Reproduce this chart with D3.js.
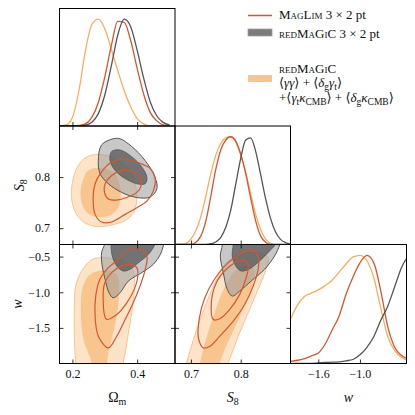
<!DOCTYPE html>
<html><head><meta charset="utf-8">
<script src="https://cdn.jsdelivr.net/npm/d3@7"></script>
<style>body{margin:0;background:#fff}text{font-family:"Liberation Serif","DejaVu Serif",serif;fill:#111}</style>
</head><body>
<svg id="c" width="415" height="415"></svg>
<script>
// ---------- ranges & ticks ----------
const omRange = [0.16, 0.517];
const s8Range = [0.668, 0.90];
const wRange = [-2.0, -0.33];
const omTicks = [0.2, 0.4];
const s8Ticks = [0.7, 0.8];
const wTicksX = [-1.6, -1.0];
const wTicksY = [-0.5, -1.0, -1.5];

// ---------- 1D marginals ----------
const omGrid = [0.16,0.18,0.20,0.22,0.24,0.26,0.28,0.30,0.32,0.34,0.36,0.38,0.40,0.42,0.44,0.46,0.48,0.50];
const omCross = [0,0.01,0.08,0.33,0.70,0.95,1.00,0.91,0.72,0.52,0.33,0.18,0.07,0.02,0,0,0,0];
const omMagLim = [0,0,0,0.005,0.02,0.08,0.22,0.46,0.75,0.98,0.97,0.80,0.54,0.30,0.13,0.05,0.01,0];
const omRedMagic = [0,0,0,0,0.008,0.036,0.116,0.29,0.56,0.85,1.0,0.93,0.71,0.45,0.23,0.098,0.034,0.01];

const s8Grid = [0.67,0.68,0.69,0.70,0.71,0.72,0.73,0.74,0.75,0.76,0.77,0.78,0.79,0.80,0.81,0.82,0.83,0.84,0.85,0.86,0.87,0.88,0.89,0.90];
const s8Cross = [0,0,0.01,0.05,0.13,0.26,0.45,0.66,0.83,0.94,0.99,1.0,0.95,0.83,0.67,0.47,0.28,0.14,0.05,0.01,0,0,0,0];
const s8MagLim = [0,0,0,0,0.02,0.08,0.22,0.45,0.70,0.88,0.97,1.0,0.96,0.84,0.66,0.43,0.22,0.08,0.02,0,0,0,0,0];
const s8RedMagic = [0,0,0,0,0,0,0,0.007,0.023,0.066,0.16,0.32,0.56,0.80,0.97,0.99,0.865,0.65,0.425,0.24,0.116,0.048,0.017,0.005];

const wGrid = [-2.0,-1.9,-1.8,-1.7,-1.6,-1.5,-1.4,-1.3,-1.2,-1.1,-1.0,-0.9,-0.8,-0.7,-0.6,-0.5,-0.4,-0.3];
const wCross = [0.41,0.54,0.62,0.65,0.68,0.72,0.77,0.845,0.92,0.985,1.0,0.95,0.79,0.51,0.25,0.12,0.056,0.025];
const wMagLim = [0.02,0.03,0.046,0.07,0.096,0.18,0.31,0.44,0.64,0.80,0.93,1.0,0.93,0.67,0.34,0.15,0.074,0.04];
const wRedMagic = [0,0,0,0.002,0.005,0.01,0.012,0.015,0.025,0.037,0.08,0.15,0.25,0.40,0.53,0.71,0.89,1.0];

// ---------- 2D contours (68% / 95%) ----------
const omS8Cross95 = [[0.259,0.843],[0.301,0.843],[0.342,0.833],[0.378,0.813],[0.394,0.787],[0.399,0.76],[0.391,0.733],[0.368,0.717],[0.326,0.707],[0.28,0.703],[0.239,0.71],[0.21,0.73],[0.197,0.76],[0.2,0.79],[0.213,0.817],[0.234,0.835]];
const omS8Cross68 = [[0.249,0.813],[0.29,0.818],[0.326,0.81],[0.344,0.79],[0.349,0.763],[0.342,0.74],[0.316,0.725],[0.28,0.722],[0.249,0.728],[0.23,0.747],[0.225,0.77],[0.234,0.797]];
const omS8RedMagic95 = [[0.326,0.875],[0.347,0.875],[0.383,0.86],[0.424,0.833],[0.455,0.8],[0.461,0.777],[0.44,0.761],[0.399,0.76],[0.352,0.77],[0.311,0.787],[0.285,0.807],[0.28,0.833],[0.29,0.863]];
const omS8RedMagic68 = [[0.321,0.85],[0.347,0.853],[0.383,0.84],[0.414,0.82],[0.43,0.8],[0.425,0.787],[0.399,0.787],[0.363,0.797],[0.332,0.813],[0.316,0.833]];
const omS8MagLim95 = [[0.352,0.835],[0.404,0.828],[0.44,0.817],[0.455,0.8],[0.45,0.773],[0.43,0.753],[0.399,0.74],[0.363,0.727],[0.321,0.712],[0.29,0.712],[0.27,0.727],[0.264,0.76],[0.27,0.787],[0.29,0.81],[0.316,0.827]];
const omS8MagLim68 = [[0.352,0.813],[0.388,0.81],[0.409,0.8],[0.412,0.783],[0.399,0.77],[0.368,0.76],[0.337,0.755],[0.311,0.757],[0.299,0.77],[0.301,0.787],[0.321,0.803]];

const omWCross95 = [[0.215,-2.4],[0.21,-1.993],[0.206,-1.664],[0.206,-1.195],[0.21,-0.913],[0.228,-0.702],[0.259,-0.547],[0.29,-0.514],[0.332,-0.538],[0.368,-0.594],[0.388,-0.702],[0.391,-0.96],[0.385,-1.242],[0.373,-1.57],[0.363,-1.852],[0.357,-1.993],[0.352,-2.4]];
const omWCross68 = [[0.262,-2.4],[0.259,-1.993],[0.234,-1.664],[0.226,-1.289],[0.23,-0.96],[0.249,-0.772],[0.28,-0.702],[0.316,-0.702],[0.34,-0.772],[0.344,-1.007],[0.337,-1.336],[0.321,-1.664],[0.306,-1.993],[0.30,-2.4]];
const omWRedMagic95 = [[0.30,-0.1],[0.299,-0.326],[0.29,-0.444],[0.292,-0.631],[0.301,-0.819],[0.313,-1.007],[0.326,-1.077],[0.347,-1.007],[0.373,-0.843],[0.414,-0.725],[0.45,-0.608],[0.472,-0.467],[0.482,-0.326],[0.49,-0.1]];
const omWRedMagic68 = [[0.318,-0.1],[0.319,-0.326],[0.323,-0.491],[0.337,-0.631],[0.357,-0.702],[0.378,-0.678],[0.404,-0.585],[0.435,-0.467],[0.455,-0.326],[0.465,-0.1]];
const omWMagLim95 = [[0.311,-1.78],[0.28,-1.617],[0.27,-1.336],[0.272,-1.054],[0.285,-0.819],[0.311,-0.655],[0.342,-0.538],[0.363,-0.43],[0.385,-0.38],[0.409,-0.39],[0.43,-0.49],[0.425,-0.678],[0.409,-0.913],[0.388,-1.148],[0.363,-1.383],[0.337,-1.617]];
const omWMagLim68 = [[0.305,-1.38],[0.295,-1.1],[0.3,-0.866],[0.321,-0.725],[0.352,-0.63],[0.378,-0.608],[0.399,-0.655],[0.402,-0.772],[0.391,-0.96],[0.368,-1.148],[0.337,-1.312]];

const s8WCross95 = [[0.673,-2.4],[0.691,-1.993],[0.705,-1.664],[0.721,-1.336],[0.738,-1.03],[0.755,-0.772],[0.771,-0.585],[0.791,-0.481],[0.818,-0.444],[0.841,-0.453],[0.855,-0.514],[0.851,-0.678],[0.835,-0.96],[0.815,-1.289],[0.795,-1.617],[0.775,-1.993],[0.751,-2.4]];
const s8WCross68 = [[0.705,-2.4],[0.718,-1.993],[0.73,-1.664],[0.745,-1.336],[0.761,-1.03],[0.778,-0.796],[0.795,-0.669],[0.815,-0.631],[0.828,-0.688],[0.826,-0.843],[0.81,-1.148],[0.788,-1.5],[0.768,-1.805],[0.758,-1.993],[0.74,-2.4]];
const s8WRedMagic95 = [[0.76,-0.1],[0.763,-0.326],[0.759,-0.491],[0.765,-0.725],[0.773,-0.96],[0.783,-1.054],[0.798,-0.984],[0.821,-0.843],[0.848,-0.678],[0.868,-0.491],[0.879,-0.326],[0.89,-0.1]];
const s8WRedMagic68 = [[0.785,-0.1],[0.785,-0.326],[0.783,-0.491],[0.79,-0.631],[0.801,-0.702],[0.818,-0.669],[0.838,-0.561],[0.858,-0.42],[0.87,-0.326],[0.88,-0.1]];
const s8WMagLim95 = [[0.725,-1.782],[0.715,-1.641],[0.717,-1.359],[0.728,-1.077],[0.745,-0.843],[0.765,-0.655],[0.788,-0.514],[0.808,-0.434],[0.825,-0.42],[0.835,-0.491],[0.835,-0.678],[0.825,-0.913],[0.808,-1.171],[0.785,-1.406],[0.758,-1.617],[0.738,-1.758]];
const s8WMagLim68 = [[0.745,-1.383],[0.741,-1.148],[0.751,-0.866],[0.771,-0.678],[0.791,-0.575],[0.806,-0.547],[0.815,-0.608],[0.811,-0.796],[0.798,-1.03],[0.778,-1.242],[0.758,-1.373]];

// ---------- styles ----------
const cRed = "#d4562f", cGreyLine = "#555555", cOrangeLine = "#f9ad5e";
const cOrOuter = "#fde4c9", cOrInner = "#f9c58f", cOrEdge = "#f7b878";

// ---------- layout ----------
const colX = [59.5, 175, 290.5, 406.5];
const rowY = [8.5, 126, 244.5, 363.5];
const svg = d3.select("#c");
const defs = svg.append("defs");

const xOm = d3.scaleLinear().domain(omRange).range([colX[0], colX[1]]);
const xS8 = d3.scaleLinear().domain(s8Range).range([colX[1], colX[2]]);
const xW = d3.scaleLinear().domain(wRange).range([colX[2], colX[3]]);
const yS8 = d3.scaleLinear().domain(s8Range).range([rowY[2], rowY[1]]);
const yW = d3.scaleLinear().domain(wRange).range([rowY[3], rowY[2]]);
const yDiag = r => d3.scaleLinear().domain([0, 1.1]).range([rowY[r+1], rowY[r]]);

let clipN = 0;
function panel(c, r) {
  const id = "clip" + (clipN++);
  defs.append("clipPath").attr("id", id).append("rect")
    .attr("x", colX[c]).attr("y", rowY[r]).attr("width", colX[c+1]-colX[c]).attr("height", rowY[r+1]-rowY[r]);
  return svg.append("g").attr("clip-path", `url(#${id})`);
}

function diag(c, xs, grid, series) {
  const g = panel(c, c);
  const ys = yDiag(c);
  series.forEach(([vals, col]) => {
    g.append("path").datum(vals)
      .attr("d", d3.line().x((d,i) => xs(grid[i])).y(d => ys(d)).curve(d3.curveMonotoneX))
      .attr("fill", "none").attr("stroke", col).attr("stroke-width", 1.3);
  });
}

function twoD(c, r, xs, ys, cr95, cr68, rm95, rm68, ml95, ml68) {
  const g = panel(c, r);
  const ln = d3.line().x(d => xs(d[0])).y(d => ys(d[1])).curve(d3.curveCatmullRomClosed.alpha(0.5));
  g.append("path").attr("d", ln(cr95)).attr("fill", cOrOuter).attr("stroke", cOrEdge).attr("stroke-width", 0.8);
  g.append("path").attr("d", ln(cr68)).attr("fill", cOrInner).attr("stroke", "none");
  g.append("path").attr("d", ln(rm95)).attr("fill", "#9a9a9a").attr("fill-opacity", 0.55).attr("stroke", cGreyLine).attr("stroke-width", 1);
  g.append("path").attr("d", ln(rm68)).attr("fill", "#4e4e4e").attr("fill-opacity", 0.7).attr("stroke", cGreyLine).attr("stroke-width", 0.8);
  g.append("path").attr("d", ln(ml95)).attr("fill", "none").attr("stroke", cRed).attr("stroke-width", 1.2);
  g.append("path").attr("d", ln(ml68)).attr("fill", "none").attr("stroke", cRed).attr("stroke-width", 1.2);
}

diag(0, xOm, omGrid, [[omCross, cOrangeLine], [omMagLim, cRed], [omRedMagic, cGreyLine]]);
diag(1, xS8, s8Grid, [[s8Cross, cOrangeLine], [s8MagLim, cRed], [s8RedMagic, cGreyLine]]);
diag(2, xW, wGrid, [[wCross, cOrangeLine], [wMagLim, cRed], [wRedMagic, cGreyLine]]);
twoD(0, 1, xOm, yS8, omS8Cross95, omS8Cross68, omS8RedMagic95, omS8RedMagic68, omS8MagLim95, omS8MagLim68);
twoD(0, 2, xOm, yW, omWCross95, omWCross68, omWRedMagic95, omWRedMagic68, omWMagLim95, omWMagLim68);
twoD(1, 2, xS8, yW, s8WCross95, s8WCross68, s8WRedMagic95, s8WRedMagic68, s8WMagLim95, s8WMagLim68);

// ---------- axes / ticks ----------
const fmt = d3.format(".1f");
function ax(axisFn, scale, ticks, tx, ty, labels) {
  const a = axisFn(scale).tickValues(ticks).tickSize(-4).tickPadding(axisFn === d3.axisLeft ? 9.5 : 6)
    .tickFormat(labels ? fmt : "");
  const g = svg.append("g").attr("transform", `translate(${tx},${ty})`).call(a);
  g.select(".domain").remove();
  g.selectAll("line").attr("stroke", "#000").attr("stroke-width", 0.8);
  if (labels) g.selectAll("text").attr("font-size", 12).attr("font-family", "Liberation Serif").attr("fill", "#111");
  else g.selectAll("text").remove();
}
// diagonal panels: bottom ticks only
ax(d3.axisBottom, xOm, omTicks, 0, rowY[1], false);
ax(d3.axisBottom, xS8, s8Ticks, 0, rowY[2], false);
ax(d3.axisBottom, xW, wTicksX, 0, rowY[3], true);
// (Om,S8)
ax(d3.axisTop, xOm, omTicks, 0, rowY[1], false);
ax(d3.axisBottom, xOm, omTicks, 0, rowY[2], false);
ax(d3.axisLeft, yS8, s8Ticks, colX[0], 0, true);
ax(d3.axisRight, yS8, s8Ticks, colX[1], 0, false);
// (Om,w)
ax(d3.axisTop, xOm, omTicks, 0, rowY[2], false);
ax(d3.axisBottom, xOm, omTicks, 0, rowY[3], true);
ax(d3.axisLeft, yW, wTicksY, colX[0], 0, true);
ax(d3.axisRight, yW, wTicksY, colX[1], 0, false);
// (S8,w)
ax(d3.axisTop, xS8, s8Ticks, 0, rowY[2], false);
ax(d3.axisBottom, xS8, s8Ticks, 0, rowY[3], true);
ax(d3.axisLeft, yW, wTicksY, colX[1], 0, false);
ax(d3.axisRight, yW, wTicksY, colX[2], 0, false);

// ---------- frames ----------
[[0,0],[0,1],[0,2],[1,1],[1,2],[2,2]].forEach(([c, r]) => {
  svg.append("rect").attr("x", colX[c]).attr("y", rowY[r])
    .attr("width", colX[c+1]-colX[c]).attr("height", rowY[r+1]-rowY[r])
    .attr("fill", "none").attr("stroke", "#000").attr("stroke-width", 1);
});

// ---------- axis labels ----------
function lab(x, y, parts, rot) {
  const t = svg.append("text").attr("text-anchor", "middle").attr("font-size", 14)
    .attr("transform", `translate(${x},${y})` + (rot ? " rotate(-90)" : ""));
  parts.forEach(([s, it, sub]) => {
    const ts = t.append("tspan").text(s);
    if (it) ts.attr("font-style", "italic");
    if (sub) ts.attr("font-size", 10).attr("dy", 3);
  });
}
lab((colX[0]+colX[1])/2, 402, [["Ω", false, false], ["m", false, true]], false);
lab((colX[1]+colX[2])/2, 402, [["S", true, false], ["8", false, true]], false);
lab((colX[2]+colX[3])/2, 402, [["w", true, false]], false);
lab(24, (rowY[1]+rowY[2])/2, [["S", true, false], ["8", false, true]], true);
lab(22, (rowY[2]+rowY[3])/2, [["w", true, false]], true);

// ---------- legend ----------
const lg = svg.append("g");
lg.append("line").attr("x1", 248).attr("x2", 272).attr("y1", 15.5).attr("y2", 15.5).attr("stroke", cRed).attr("stroke-width", 1.5);
lg.append("rect").attr("x", 248).attr("y", 29).attr("width", 24).attr("height", 7).attr("fill", "#7b7b7b").attr("stroke", "#a0a0a0").attr("stroke-width", 0.8);
lg.append("rect").attr("x", 248).attr("y", 75).attr("width", 24).attr("height", 7).attr("fill", cOrInner);
function ltext(y) { return lg.append("text").attr("x", 279).attr("y", y).attr("font-size", 13); }
// rich text: segments [text, style] where style: "" normal, "i" italic, "s" subscript, "c" small caps
function rich(y, segs) {
  const t = ltext(y);
  let shifted = false;
  segs.forEach(([s, st]) => {
    const ts = t.append("tspan").text(s);
    if (st === "s") { ts.attr("font-size", 9.5); if (!shifted) { ts.attr("dy", 2.5); shifted = true; } }
    else if (shifted) { ts.attr("dy", -2.5); shifted = false; }
    if (st === "i") ts.attr("font-style", "italic");
    if (st === "c") ts.attr("font-variant", "small-caps");
  });
}
rich(19, [["MagLim", "c"], [" 3 × 2 pt", ""]]);
rich(38, [["redMaGiC", "c"], [" 3 × 2 pt", ""]]);
rich(73, [["redMaGiC", "c"]]);
rich(87, [["⟨", ""], ["γγ", "i"], ["⟩ + ⟨", ""], ["δ", "i"], ["g", "s"], ["γ", "i"], ["t", "s"], ["⟩", ""]]);
rich(102, [["+⟨", ""], ["γ", "i"], ["t", "s"], ["κ", "i"], ["CMB", "s"], ["⟩ + ⟨", ""], ["δ", "i"], ["g", "s"], ["κ", "i"], ["CMB", "s"], ["⟩", ""]]);
</script>
</body></html>
